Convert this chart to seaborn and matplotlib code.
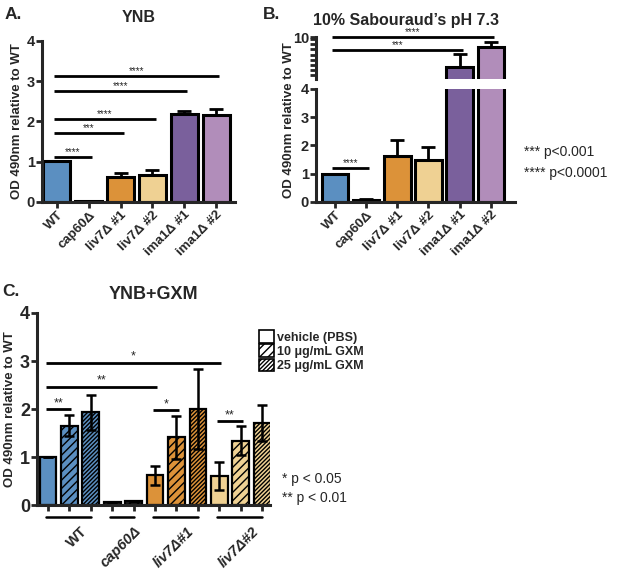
import numpy as np
import pandas as pd
import matplotlib
matplotlib.use('Agg')
import matplotlib.pyplot as plt
import seaborn as sns
from matplotlib.patches import Patch
from matplotlib.ticker import MultipleLocator

# Panel A / B data
strains = ['WT', 'cap60Δ', 'liv7Δ #1', 'liv7Δ #2', 'ima1Δ #1', 'ima1Δ #2']
strain_colors = ['#4A8FD2', '#1A1A1A', '#F7941E', '#FED684', '#7856A6', '#B586C1']
ynb_mean = [1.01, 0.02, 0.63, 0.68, 2.18, 2.16]
ynb_err = [0.0, 0.0, 0.10, 0.11, 0.09, 0.15]
ynb_sig = [(0, 1, 1.12, '****'), (0, 2, 1.72, '***'), (0, 3, 2.06, '****'),
           (0, 4, 2.75, '****'), (0, 5, 3.13, '****')]

sab_mean = [1.0, 0.07, 1.63, 1.49, 5.7, 8.57]
sab_err = [0.0, 0.02, 0.56, 0.47, 1.87, 0.73]
sab_sig_low = [(0, 1, 1.2, '****')]
sab_sig_up = [(0, 4, 8.1, '***'), (0, 5, 10.0, '****')]

# Panel C data
gxm_groups = ['WT', 'cap60Δ', 'liv7Δ#1', 'liv7Δ#2']
gxm_group_italic = [False, True, True, True]
gxm_strain = ['WT'] * 3 + ['cap60Δ'] * 2 + ['liv7Δ#1'] * 3 + ['liv7Δ#2'] * 3
gxm_treat = ['vehicle', '10', '25', 'vehicle', '10',
             'vehicle', '10', '25', 'vehicle', '10', '25']
gxm_mean = [1.01, 1.65, 1.93, 0.06, 0.08, 0.62, 1.41, 2.0, 0.6, 1.34, 1.71]
gxm_err = [0.0, 0.22, 0.37, 0.0, 0.0, 0.2, 0.45, 0.83, 0.29, 0.3, 0.37]
gxm_colors = {'WT': '#4A8FD2', 'cap60Δ': '#1A1A1A', 'liv7Δ#1': '#F7941E', 'liv7Δ#2': '#FED684'}
gxm_hatch = {'vehicle': '', '10': '////', '25': '////////'}
gxm_sig = [(0, 1, 2.0, '**'), (0, 5, 2.46, '**'), (0, 8, 2.96, '*'),
           (5, 6, 1.97, '*'), (8, 9, 1.75, '**')]
legend_labels = ['vehicle (PBS)', '10 μg/mL GXM', '25 μg/mL GXM']

sns.set_style('ticks')
plt.rcParams['font.family'] = ['Liberation Sans', 'DejaVu Sans']
plt.rcParams['hatch.linewidth'] = 1.0
plt.rcParams['axes.linewidth'] = 2.2


def style_axis(ax, fs):
    sns.despine(ax=ax)
    ax.tick_params(width=2, length=4, labelsize=fs, pad=1)
    for lab in ax.get_yticklabels():
        lab.set_fontweight('bold')


def sig_line(ax, x0, x1, y, stars, lw=2.0, fs=7):
    ax.plot([x0 - 0.1, x1 + 0.1], [y, y], color='black', lw=lw, clip_on=False,
            solid_capstyle='butt')
    ax.text((x0 + x1) / 2, y, stars, ha='center', va='bottom', fontsize=fs,
            clip_on=False)


def strain_bars(ax, mean, err):
    df = pd.DataFrame({'strain': strains, 'val': mean})
    sns.barplot(data=df, x='strain', y='val', hue='strain', palette=strain_colors,
                edgecolor='black', linewidth=2.2, width=0.85, legend=False,
                errorbar=None, ax=ax)
    ax.errorbar(np.arange(len(mean)), mean, yerr=[np.zeros(len(mean)), err],
                fmt='none', ecolor='black', elinewidth=2, capsize=5, capthick=2)


fig = plt.figure(figsize=(6.25, 5.72), dpi=100)

# ---- A. YNB
axA = fig.add_axes([0.0672, 0.6469, 0.309, 0.2815])
strain_bars(axA, ynb_mean, ynb_err)
axA.set_ylim(0, 4)
axA.set_xlim(-0.47, 5.6)
axA.set_yticks([0, 1, 2, 3, 4])
style_axis(axA, 10.5)
axA.set_xticks(range(len(strains)))
axA.set_xticklabels(strains, rotation=45, ha='right', rotation_mode='anchor',
                    fontweight='bold', fontsize=9.5)
axA.set_xlabel('')
axA.set_ylabel('OD 490nm relative to WT', fontsize=9.5, fontweight='bold', labelpad=3)
axA.set_title('YNB', fontsize=11.5, fontweight='bold', pad=14)
for x0, x1, y, s in ynb_sig:
    sig_line(axA, x0, x1, y, s)

# ---- B. 10% Sabouraud's (broken axis)
axBl = fig.add_axes([0.5056, 0.6469, 0.318, 0.1976])
axBu = fig.add_axes([0.5056, 0.8619, 0.318, 0.0734])
for ax in (axBl, axBu):
    strain_bars(ax, sab_mean, sab_err)
    ax.set_xlim(-0.61, 5.77)
    ax.set_xlabel('')
    ax.set_ylabel('')
axBl.set_ylim(0, 4)
axBl.set_yticks([0, 1, 2, 3, 4])
style_axis(axBl, 10.5)
axBl.set_xticks(range(len(strains)))
axBl.set_xticklabels(strains, rotation=45, ha='right', rotation_mode='anchor',
                     fontweight='bold', fontsize=9.5)
axBu.set_ylim(4, 10)
axBu.set_yticks([10])
axBu.yaxis.set_minor_locator(MultipleLocator(0.75))
style_axis(axBu, 10.5)
axBu.tick_params(which='minor', width=2, length=4)
axBu.spines['bottom'].set_visible(False)
axBu.set_xticks([])
for x0, x1, y, s in sab_sig_low:
    sig_line(axBl, x0, x1, y, s)
for x0, x1, y, s in sab_sig_up:
    sig_line(axBu, x0, x1, y, s)
fig.text(0.463, 0.79, 'OD 490nm relative to WT', rotation=90, ha='center', va='center',
         fontsize=9.5, fontweight='bold')
fig.text(0.65, 0.965, '10% Sabouraud\u2019s pH 7.3', ha='center', va='center',
         fontsize=11.5, fontweight='bold')
fig.text(0.838, 0.734, '*** p<0.001', fontsize=10, va='center')
fig.text(0.838, 0.697, '**** p<0.0001', fontsize=10, va='center')

# ---- C. YNB+GXM
axC = fig.add_axes([0.0592, 0.1171, 0.373, 0.3357])
slots = [f'{s}|{t}' for s, t in zip(gxm_strain, gxm_treat)]
dfc = pd.DataFrame({'slot': slots, 'val': gxm_mean})
slot_colors = [gxm_colors[s] for s in gxm_strain]
sns.barplot(data=dfc, x='slot', y='val', hue='slot', palette=slot_colors,
            edgecolor='black', linewidth=1.6, width=0.78, legend=False,
            errorbar=None, ax=axC)
for patch, t in zip(axC.patches, gxm_treat):
    patch.set_hatch(gxm_hatch[t])
axC.errorbar(np.arange(len(gxm_mean)), gxm_mean, yerr=gxm_err, fmt='none',
             ecolor='black', elinewidth=1.8, capsize=3.5, capthick=1.8)
axC.set_ylim(0, 4)
axC.set_xlim(-0.51, 10.37)
axC.set_yticks([0, 1, 2, 3, 4])
style_axis(axC, 13)
axC.set_xticks(range(len(slots)))
axC.set_xticklabels([])
axC.set_xlabel('')
axC.set_ylabel('OD 490nm relative to WT', fontsize=9.5, fontweight='bold', labelpad=3)
axC.set_title('YNB+GXM', fontsize=13, fontweight='bold', pad=10)
for x0, x1, y, s in gxm_sig:
    sig_line(axC, x0, x1, y, s, fs=9)

tr = axC.get_xaxis_transform()
idx = np.arange(len(gxm_strain))
for g, it in zip(gxm_groups, gxm_group_italic):
    members = idx[np.array(gxm_strain) == g]
    axC.plot([members.min() - 0.1, members.max()], [-0.062, -0.062], color='black',
             lw=1.8, transform=tr, clip_on=False)
    axC.text(members.mean() + 0.5, -0.1, g, transform=tr, rotation=45, ha='right',
             va='top', rotation_mode='anchor', fontsize=10.5, fontweight='bold',
             style='italic' if it else 'normal')

handles = [Patch(facecolor='white', edgecolor='black', hatch=gxm_hatch[t], lw=1.2)
           for t in ['vehicle', '10', '25']]
leg = fig.legend(handles, legend_labels, loc='upper left', bbox_to_anchor=(0.405, 0.434),
                 frameon=False, handlelength=1.2, handleheight=1.2, handletextpad=0.2,
                 labelspacing=0.05, borderpad=0, prop={'weight': 'bold', 'size': 9})
fig.text(0.452, 0.163, '* p < 0.05', fontsize=10, va='center')
fig.text(0.452, 0.130, '** p < 0.01', fontsize=10, va='center')

# panel letters
fig.text(0.008, 0.975, 'A.', fontsize=12.5, fontweight='bold', va='center')
fig.text(0.42, 0.975, 'B.', fontsize=12.5, fontweight='bold', va='center')
fig.text(0.004, 0.49, 'C.', fontsize=12.5, fontweight='bold', va='center')

fig.savefig('out.png', dpi=100)
